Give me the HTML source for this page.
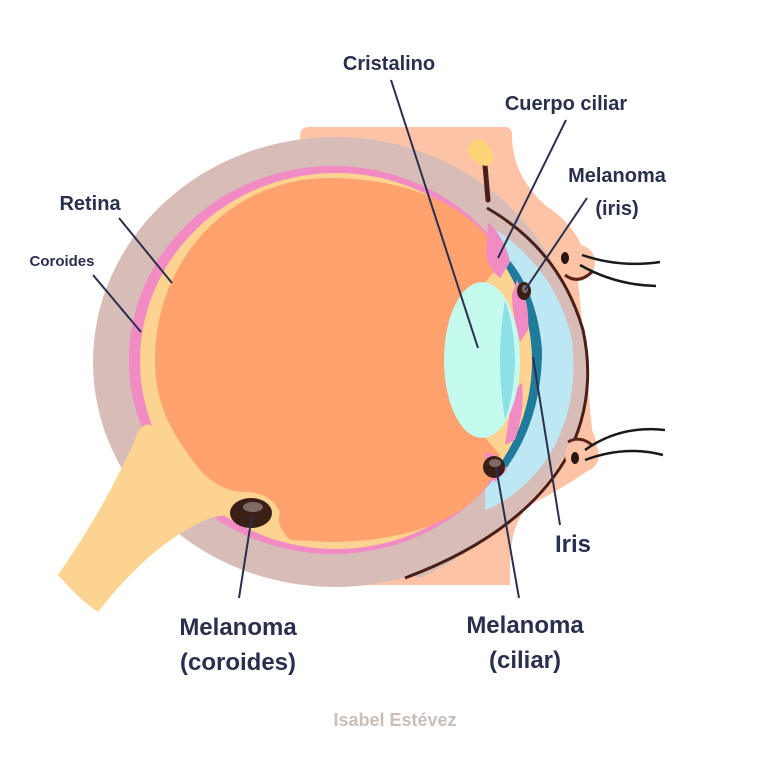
<!DOCTYPE html>
<html><head><meta charset="utf-8"><style>
html,body{margin:0;padding:0;background:#fff;}
svg{display:block;}
text{font-family:"Liberation Sans",sans-serif;fill:#2b2f4e;font-weight:bold;}
</style></head><body>
<svg width="768" height="768" viewBox="0 0 768 768" xmlns="http://www.w3.org/2000/svg">
<!-- skin -->
<path d="M300 135 Q300 127 310 127 L505 127 Q512 127 512 135 Q512 175 545 205 Q575 225 583 250 Q590 268 578 280 L592 430 Q602 450 592 468 Q560 490 530 505 Q512 520 510 560 L510 585 L330 585 Z" fill="#fdc3a6"/>
<!-- sclera -->
<ellipse cx="335" cy="362" rx="242" ry="225" fill="#d7bcb8"/>
<path d="M480 195 Q560 250 583 330 Q598 400 565 455 Q520 530 420 578 L380 560 L470 200 Z" fill="#d7bcb8"/>
<!-- cornea light blue -->
<path d="M488 225 Q555 265 572 340 Q580 410 545 462 Q515 500 485 510 Z" fill="#bde8f3"/>
<!-- pink choroid -->
<ellipse cx="333" cy="360" rx="204" ry="194" fill="#f28bc3"/>
<!-- iris dark blue -->
<path d="M505 255 Q537 290 542 350 Q542 420 505 470 L495 470 Q520 410 518 350 Q515 295 495 258 Z" fill="#1f7a9b"/>
<!-- yellow retina -->
<ellipse cx="336" cy="361" rx="196" ry="188" fill="#fdd391"/>
<!-- orange vitreous -->
<path d="M330 178 C430 178 495 225 500 265 L470 300 L470 420 L500 455 C490 510 420 542 330 542 L290 540 Q275 525 280 512 Q270 492 245 492 Q220 492 200 470 C168 430 155 400 155 360 C155 260 230 178 330 178 Z" fill="#ffa26d"/>
<!-- optic nerve -->
<path d="M140 428 Q150 420 155 430 Q175 470 215 492 Q245 500 262 496 L268 520 Q230 510 205 520 Q150 545 98 612 Q80 600 58 575 Q110 500 140 428 Z" fill="#fdd391"/>
<!-- ciliar pink bits -->
<path d="M488 222 Q505 238 510 262 L500 278 Q488 268 486 255 Z" fill="#f28bc3"/>
<path d="M517 280 Q530 300 528 330 L520 342 Q512 315 512 295 Z" fill="#f28bc3"/>
<path d="M522 383 Q525 410 515 440 L505 445 Q510 410 514 390 Z" fill="#f28bc3"/>
<path d="M485 452 Q502 455 507 470 L495 482 Q485 470 485 452 Z" fill="#f28bc3"/>
<!-- lens -->
<ellipse cx="482" cy="360" rx="38" ry="78" fill="#c4fbee"/>
<path d="M505 300 Q525 360 505 420 Q495 360 505 300 Z" fill="#8de0e6"/>
<!-- brown outline -->
<path d="M487 208 Q560 250 583 330 Q598 400 565 460 Q520 535 405 578" fill="none" stroke="#4a1f1a" stroke-width="3"/>
<path d="M488 200 L485 165" stroke="#4a1f1a" stroke-width="5" stroke-linecap="round"/>
<path d="M468 150 Q470 138 482 140 Q492 145 494 160 Q490 168 482 165 Q468 160 468 150 Z" fill="#fdd47a"/>
<!-- lids -->
<ellipse cx="578" cy="262" rx="17" ry="17" fill="#fdc3a6"/>
<path d="M565 275 Q578 285 592 272" fill="none" stroke="#5a221b" stroke-width="3"/>
<ellipse cx="565" cy="258" rx="4" ry="6" fill="#2a1410"/>
<path d="M582 255 Q620 268 660 262 M580 265 Q615 285 656 286" fill="none" stroke="#1a1a1a" stroke-width="2.5"/>
<ellipse cx="582" cy="455" rx="17" ry="17" fill="#fdc3a6"/>
<path d="M568 442 Q580 435 592 445" fill="none" stroke="#5a221b" stroke-width="3"/>
<ellipse cx="575" cy="458" rx="4" ry="6" fill="#2a1410"/>
<path d="M585 450 Q620 425 665 430 M585 460 Q625 445 663 455" fill="none" stroke="#1a1a1a" stroke-width="2.5"/>
<!-- tumors -->
<ellipse cx="251" cy="513" rx="21" ry="15" fill="#3a1f17"/><ellipse cx="253" cy="507" rx="10" ry="5" fill="#7f6b63"/>
<ellipse cx="524" cy="291" rx="7" ry="9" fill="#3a1f17"/><ellipse cx="525" cy="289" rx="3" ry="4" fill="#7f6b63"/>
<ellipse cx="494" cy="467" rx="11" ry="11" fill="#3a1f17"/><ellipse cx="495" cy="463" rx="6" ry="4" fill="#7f6b63"/>
<!-- leader lines -->
<g stroke="#2b2f4e" stroke-width="2" fill="none">
<line x1="391" y1="80" x2="478" y2="348"/>
<line x1="566" y1="120" x2="498" y2="258"/>
<line x1="587" y1="198" x2="525" y2="290"/>
<line x1="119" y1="218" x2="172" y2="283"/>
<line x1="93" y1="275" x2="141" y2="332"/>
<line x1="560" y1="525" x2="533" y2="357"/>
<line x1="519" y1="598" x2="496" y2="467"/>
<line x1="239" y1="598" x2="252" y2="515"/>
</g>
<!-- labels -->
<text x="389" y="70" font-size="20" text-anchor="middle">Cristalino</text>
<text x="566" y="110" font-size="20" text-anchor="middle">Cuerpo ciliar</text>
<text x="617" y="182" font-size="20" text-anchor="middle">Melanoma</text>
<text x="617" y="215" font-size="20" text-anchor="middle">(iris)</text>
<text x="90" y="210" font-size="20" text-anchor="middle">Retina</text>
<text x="62" y="266" font-size="15" text-anchor="middle">Coroides</text>
<text x="573" y="552" font-size="24" text-anchor="middle">Iris</text>
<text x="525" y="633" font-size="24" text-anchor="middle">Melanoma</text>
<text x="525" y="668" font-size="24" text-anchor="middle">(ciliar)</text>
<text x="238" y="635" font-size="24" text-anchor="middle">Melanoma</text>
<text x="238" y="670" font-size="24" text-anchor="middle">(coroides)</text>
<text x="395" y="726" font-size="18" text-anchor="middle" style="fill:#c9bfb8">Isabel Estévez</text>
</svg>
</body></html>
